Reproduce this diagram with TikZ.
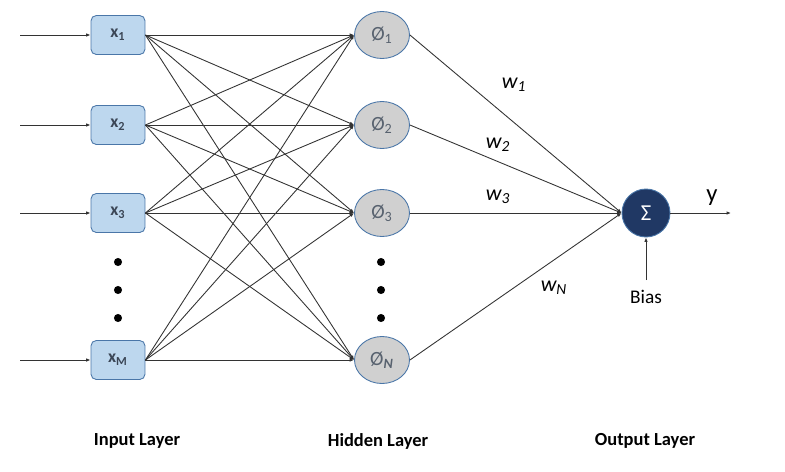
\documentclass[tikz,border=0pt]{standalone}
\usepackage{fontspec}
\setmainfont{Carlito}
\usetikzlibrary{shapes.geometric,arrows.meta}
\definecolor{boxfill}{HTML}{BDD7EE}
\definecolor{boxline}{HTML}{4A76A8}
\definecolor{hidfill}{HTML}{D0D0D0}
\definecolor{outfill}{HTML}{203864}
\definecolor{txtgray}{HTML}{3B4656}

\begin{document}
\begin{tikzpicture}[x=0.02cm, y=-0.02cm, line width=0.5pt,
  inbox/.style={draw=boxline, fill=boxfill, rounded corners=3pt, minimum width=1.08cm,
    minimum height=0.78cm, inner sep=0pt, font=\fontsize{10}{11}\selectfont\bfseries, text=txtgray},
  hidnode/.style={ellipse, draw=boxline, fill=hidfill, minimum width=1.1cm,
    minimum height=0.94cm, inner sep=0pt, font=\fontsize{11.5}{12}\selectfont, text=txtgray!85},
  wire/.style={draw=black!80, -{Latex[length=2.5pt,width=2pt]}},
  wlabel/.style={font=\fontsize{12.5}{13}\selectfont\itshape},
  layer/.style={font=\fontsize{10.5}{12}\selectfont\bfseries}]
  \useasboundingbox (0,0) rectangle (785,471);

  % input layer
  \foreach \i/\y/\lbl in {1/35/1, 2/125/2, 3/213/3, 4/360/M} {
    \node[inbox] (in\i) at (118,\y) {x\textsubscript{\lbl}};
    \coordinate (src\i) at (20,\y);
    \draw[wire] (src\i) -- (in\i);
  }
  \foreach \y in {262, 290, 318} { \fill (118,\y) circle (2.3pt); }

  % hidden layer
  \foreach \i/\y/\lbl in {1/35/1, 2/125/2, 3/213/3, 4/360/{\textbf{\textit{N}}}} {
    \node[hidnode] (hid\i) at (382,\y) {Ø\textsubscript{\lbl}};
  }
  \foreach \y in {262, 290, 318} { \fill (381,\y) circle (2.3pt); }

  \foreach \i in {1,...,4} {
    \foreach \j in {1,...,4} { \draw[wire] (in\i.east) -- (hid\j.west); }
  }

  % output layer
  \node[circle, fill=outfill, draw=boxline, minimum size=0.96cm, inner sep=0pt,
    text=white, font=\fontsize{13}{14}\selectfont] (out) at (646,213) {Σ};
  \foreach \i in {1,...,4} { \draw[wire] (hid\i.east) -- (out.west); }

  \node[wlabel] (w1) at (514,85) {w\textsubscript{1}};
  \node[wlabel] (w2) at (498,145) {w\textsubscript{2}};
  \node[wlabel] (w3) at (498,197) {w\textsubscript{3}};
  \node[wlabel] (wN) at (554,288) {w\textsubscript{N}};

  \coordinate (yend) at (731,213);
  \draw[wire] (out.east) -- (yend);
  \node[font=\fontsize{14}{15}\selectfont] (ylbl) at (712,198) {y};

  \node[font=\fontsize{11}{12}\selectfont, inner sep=1pt] (bias) at (646,297) {Bias};
  \coordinate (bstart) at (646,280);
  \draw[wire] (bstart) -- (out.south);

  % layer names
  \node[layer] (lin) at (137,441) {Input Layer};
  \node[layer] (lhid) at (378,441) {Hidden Layer};
  \node[layer] (lout) at (645,441) {Output Layer};
\end{tikzpicture}
\end{document}
